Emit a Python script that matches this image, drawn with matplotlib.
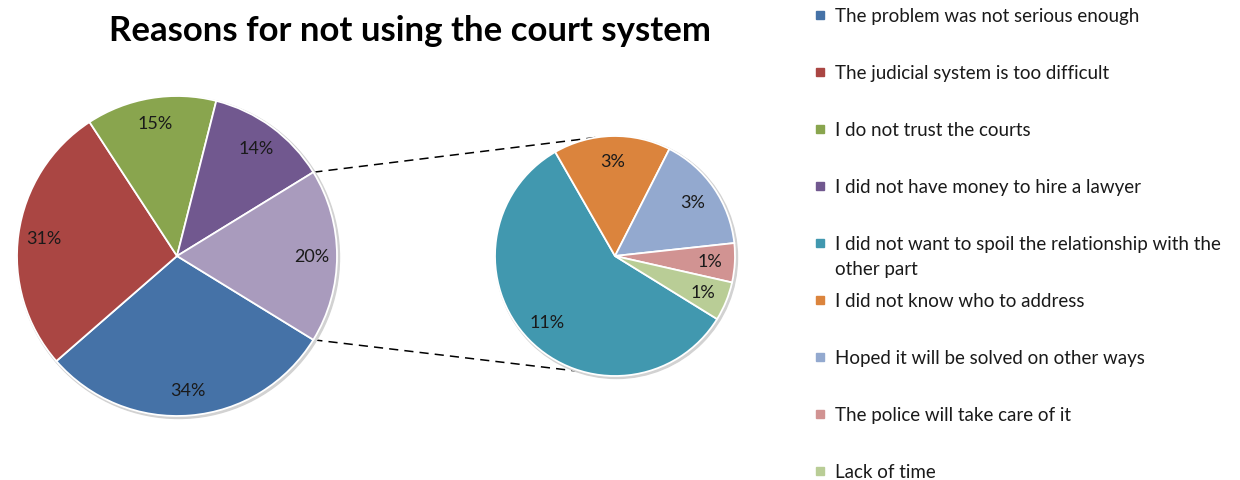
import numpy as np
import matplotlib.pyplot as plt
from matplotlib.patches import Circle, Rectangle


MAIN_LABELS = [
    "The problem was not serious enough",
    "The judicial system is too difficult",
    "I do not trust the courts",
    "I did not have money to hire a lawyer",
]
MAIN_VALUES = [34, 31, 15, 14]
OTHER_VALUE = 20

SUB_LABELS = [
    "I did not want to spoil the relationship with the\nother part",
    "I did not know who to address",
    "Hoped it will be solved on other ways",
    "The police will take care of it",
    "Lack of time",
]
SUB_VALUES = [11, 3, 3, 1, 1]

MAIN_COLORS = ["#4572A7", "#AA4643", "#89A54E", "#71588F"]
OTHER_COLOR = "#A99BBD"
SUB_COLORS = ["#4198AF", "#DB843D", "#93A9CF", "#D19392", "#B9CD96"]

TITLE = "Reasons for not using the court system"

plt.rcParams["font.family"] = ["Lato", "DejaVu Sans"]

W, H = 1240, 481
fig = plt.figure(figsize=(W / 100, H / 100), dpi=100)
ax = fig.add_axes([0, 0, 1, 1])

main_center = (177, H - 257)
main_r = 160
sub_center = (615, H - 257)
sub_r = 120


def draw_pie(values, colors, center, radius, startangle, labeldistance):
    # thin grey rim acting as a soft shadow
    ax.add_patch(Circle((center[0] + 1.5, center[1] - 1.5), radius + 1,
                        color="#d2d2d2", zorder=1))
    ax.pie(
        values,
        colors=colors,
        center=center,
        radius=radius,
        startangle=startangle,
        counterclock=False,
        labels=[f"{v:.0f}%" for v in values],
        labeldistance=labeldistance,
        wedgeprops={"edgecolor": "white", "linewidth": 1.3, "zorder": 2},
        textprops={"fontsize": 13, "color": "#1a1a1a", "zorder": 3},
        frame=True,
    )
    for t in ax.texts:
        t.set_horizontalalignment("center")
        t.set_verticalalignment("center")


main_values = MAIN_VALUES + [OTHER_VALUE]
other_deg = OTHER_VALUE / sum(main_values) * 360
draw_pie(main_values, MAIN_COLORS + [OTHER_COLOR], main_center, main_r,
         -other_deg / 2, 0.84)
draw_pie(SUB_VALUES, SUB_COLORS, sub_center, sub_r, -31.7, 0.79)

ax.set_xlim(0, W)
ax.set_ylim(0, H)
ax.set_aspect("equal")
ax.axis("off")

# dashed connectors from the "other" slice to the second pie
for a_main, a_sub in [(other_deg / 2, 98), (-other_deg / 2, -105)]:
    x0 = main_center[0] + main_r * np.cos(np.radians(a_main))
    y0 = main_center[1] + main_r * np.sin(np.radians(a_main))
    x1 = sub_center[0] + sub_r * np.cos(np.radians(a_sub))
    y1 = sub_center[1] + sub_r * np.sin(np.radians(a_sub))
    ax.plot([x0, x1], [y0, y1], color="black", linewidth=1.1,
            linestyle=(0, (6, 4)), zorder=0.5)

ax.text(410, H - 31, TITLE, ha="center", va="center",
        fontsize=25, fontweight="bold", color="black")

# legend, one entry every 57 px
legend_labels = MAIN_LABELS + SUB_LABELS
legend_colors = MAIN_COLORS + SUB_COLORS
for i, (label, color) in enumerate(zip(legend_labels, legend_colors)):
    y = H - (16 + i * 57.0)
    ax.add_patch(Rectangle((816, y - 4), 8, 8, color=color, zorder=3))
    ax.text(835, y + 8, label, ha="left", va="top", fontsize=13.5,
            color="#1a1a1a", linespacing=1.55)

fig.savefig("out.png", dpi=100)
